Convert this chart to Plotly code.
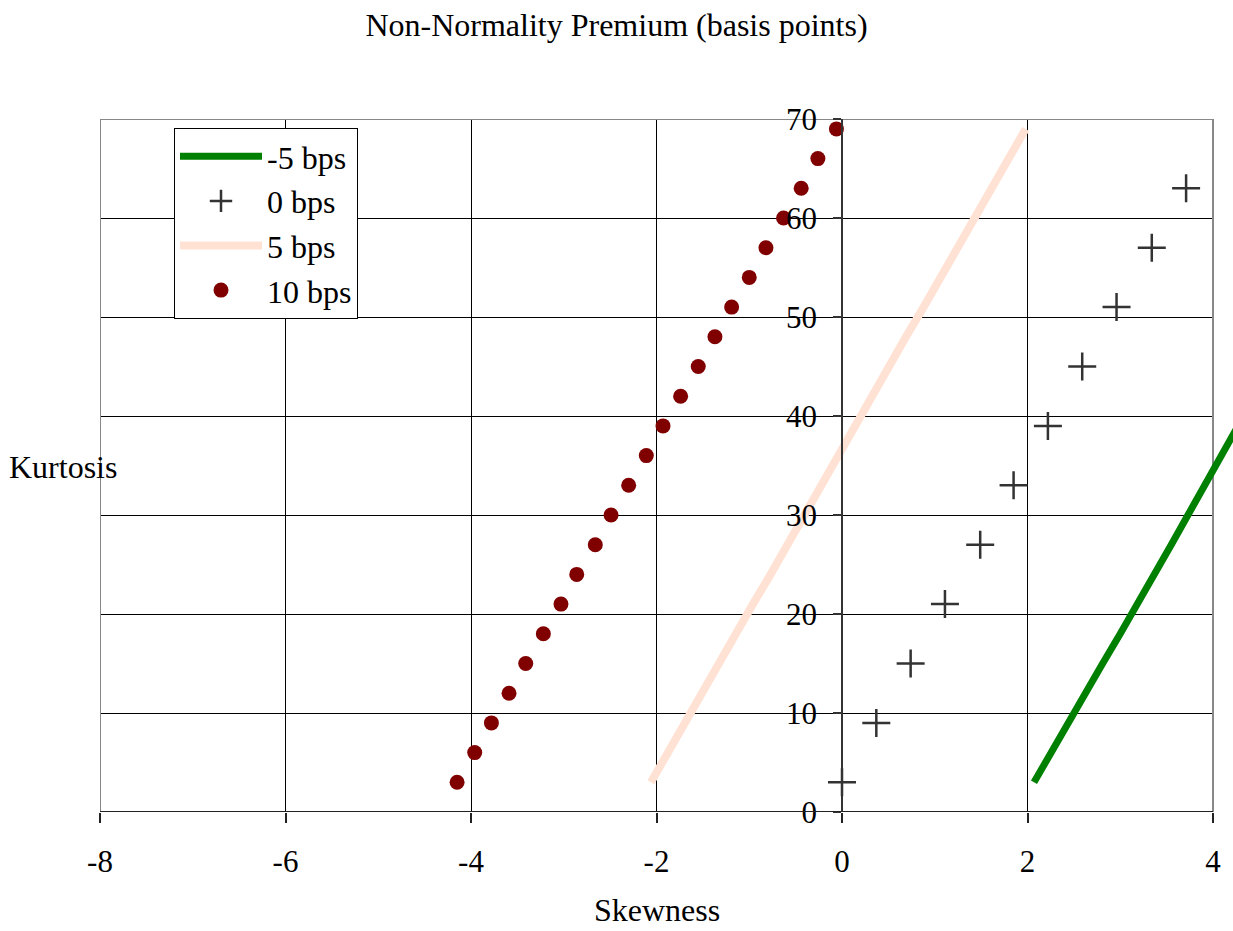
import plotly.graph_objects as go

# ---- data ----
neg5_kurt = [3, 6, 9, 12, 15, 18, 21, 24, 27, 30, 33, 36, 39, 42]
neg5_skew = [2.07, 2.25, 2.43, 2.62, 2.81, 3.00, 3.19, 3.37, 3.55, 3.73, 3.91, 4.09, 4.27, 4.45]

zero_kurt = [3, 9, 15, 21, 27, 33, 39, 45, 51, 57, 63]
zero_skew = [0.00, 0.37, 0.74, 1.11, 1.49, 1.85, 2.22, 2.59, 2.96, 3.34, 3.71]

pos5_kurt = [3, 6, 9, 12, 15, 18, 21, 24, 27, 30, 33, 36, 39, 42, 45, 48, 51, 54, 57, 60, 63, 66, 69]
pos5_skew = [-2.06, -1.88, -1.69, -1.51, -1.32, -1.14, -0.96, -0.77, -0.59, -0.41, -0.22, -0.04,
             0.14, 0.33, 0.51, 0.69, 0.88, 1.06, 1.25, 1.43, 1.61, 1.80, 1.98]

pos10_kurt = [3, 6, 9, 12, 15, 18, 21, 24, 27, 30, 33, 36, 39, 42, 45, 48, 51, 54, 57, 60, 63, 66, 69]
pos10_skew = [-4.15, -3.96, -3.78, -3.59, -3.41, -3.22, -3.03, -2.86, -2.66, -2.49, -2.30, -2.11,
              -1.93, -1.74, -1.55, -1.37, -1.19, -1.00, -0.82, -0.63, -0.44, -0.26, -0.06]

x_min, x_max = -8, 4
y_min, y_max = 0, 70
x_tick_vals = [-8, -6, -4, -2, 0, 2, 4]
x_tick_text = ["-8", "-6", "-4", "-2", "0", "2", "4"]
y_tick_vals = [0, 10, 20, 30, 40, 50, 60, 70]
y_tick_text = ["0", "10", "20", "30", "40", "50", "60", "70"]

FONT = "Liberation Serif, Times New Roman, serif"
W, H = 1233, 931
L, R, T, B = 100, 0, 119, 119
plot_w = W - L - R
plot_h = H - T - B
# extend the range so that x=4 lands at pixel 1213 and the plot area reaches the window edge
x_range_max = x_min + (x_max - x_min) * plot_w / (1213 - L)
y_axis_pos = (0 - x_min) / (x_range_max - x_min)

fig = go.Figure()
fig.add_trace(go.Scatter(x=neg5_skew, y=neg5_kurt, mode="lines", name="-5 bps",
                         line=dict(color="#008000", width=7)))
fig.add_trace(go.Scatter(x=zero_skew, y=zero_kurt, mode="markers", name="0 bps",
                         marker=dict(symbol="cross-thin", size=20, color="#333333",
                                     line=dict(color="#333333", width=2.5))))
fig.add_trace(go.Scatter(x=pos5_skew, y=pos5_kurt, mode="lines", name="5 bps",
                         line=dict(color="#FFE2D4", width=8)))
fig.add_trace(go.Scatter(x=pos10_skew, y=pos10_kurt, mode="markers", name="10 bps",
                         marker=dict(symbol="circle", size=15, color="#800000")))

shapes = [
    # hide gridlines beyond x=4
    dict(type="rect", xref="x", yref="y", x0=x_max, x1=x_range_max + 1, y0=y_min - 5, y1=y_max + 5,
         fillcolor="white", line=dict(width=0), layer="between"),
    # gray plot frame
    dict(type="rect", xref="x", yref="y", x0=x_min, x1=x_max, y0=y_min, y1=y_max,
         line=dict(color="#888888", width=2), layer="between"),
    # black x axis line
    dict(type="line", xref="x", yref="y", x0=x_min, x1=x_max, y0=0, y1=0,
         line=dict(color="#222222", width=2), layer="above"),
]

fig.update_layout(
    width=W, height=H,
    margin=dict(l=L, r=R, t=T, b=B),
    paper_bgcolor="white", plot_bgcolor="white",
    font=dict(family=FONT, size=31, color="black"),
    title=dict(text="Non-Normality Premium (basis points)", x=0.5, xref="container",
               y=1 - 25 / H, yref="container", yanchor="middle", xanchor="center",
               font=dict(family=FONT, size=32, color="black")),
    xaxis=dict(range=[x_min, x_range_max], tickmode="array", tickvals=x_tick_vals, ticktext=x_tick_text,
               showgrid=True, gridcolor="black", gridwidth=1, zeroline=False, showline=False,
               ticks="outside", ticklen=10, tickwidth=1.5, tickcolor="#222222",
               ticklabelstandoff=12, tickfont=dict(family=FONT, size=31, color="black")),
    yaxis=dict(range=[y_min, y_max], tickmode="array", tickvals=y_tick_vals, ticktext=y_tick_text,
               anchor="free", position=y_axis_pos,
               showgrid=True, gridcolor="black", gridwidth=1, zeroline=False,
               showline=True, linecolor="#333333", linewidth=1.5,
               ticks="outside", ticklen=8, tickwidth=1.5, tickcolor="#333333",
               ticklabelstandoff=10, tickfont=dict(family=FONT, size=31, color="black")),
    legend=dict(x=(174 - L) / plot_w, y=(812 - 128) / plot_h, xanchor="left", yanchor="top",
                xref="paper", yref="paper",
                bgcolor="white", bordercolor="black", borderwidth=1,
                font=dict(family=FONT, size=32, color="black"), itemwidth=82,
                tracegroupgap=0),
    showlegend=True,
    shapes=shapes,
    annotations=[
        dict(text="Kurtosis", xref="paper", yref="paper", x=(7 - L) / plot_w, y=(812 - 467) / plot_h,
             xanchor="left", yanchor="middle", showarrow=False, font=dict(family=FONT, size=32, color="black")),
        dict(text="Skewness", xref="paper", yref="paper", x=(656.5 - L) / plot_w, y=(812 - 930) / plot_h,
             xanchor="center", yanchor="bottom", showarrow=False, font=dict(family=FONT, size=32, color="black")),
    ],
)

fig.write_html("out.html")
